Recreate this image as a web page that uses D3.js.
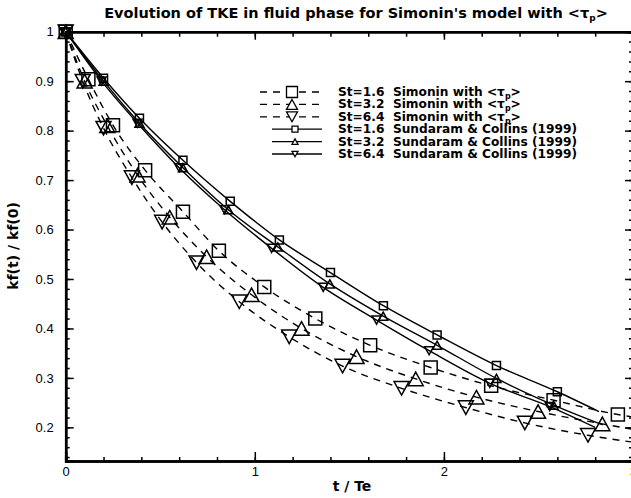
<html lang="en">
  <head>
    <meta charset="UTF-8" />
    <title>TKE evolution</title>
    <script src="https://d3js.org/d3.v7.min.js"></script>
  </head>
  <body>
    <style>
      body {
        background-color: #ffffff;
        margin: 0;
        padding: 0;
        font-family: Arial, "Liberation Sans", sans-serif;
      }
      svg {
        display: block;
      }
      .axis path,
      .axis line {
        stroke: #000;
      }
      .axis text {
        font-family: Arial, "Liberation Sans", sans-serif;
        font-size: 13px;
        fill: #000;
      }
      .bold {
        font-family: "DejaVu Sans", Arial, sans-serif;
        font-weight: bold;
      }
    </style>
    <script>
      const w = 631;
      const h = 498;

      // Simonin with <tau_p> (dashed, big markers)
      const simX16 = [0, 0.12, 0.25, 0.42, 0.62, 0.81, 1.05, 1.32, 1.61, 1.93, 2.25, 2.58, 2.92];
      const simY16 = [1, 0.904, 0.811, 0.72, 0.636, 0.557, 0.484, 0.42, 0.366, 0.321, 0.284, 0.255, 0.226];
      const simX32 = [0, 0.1, 0.22, 0.38, 0.55, 0.745, 0.983, 1.247, 1.538, 1.851, 2.172, 2.498, 2.838];
      const simY32 = [1, 0.9, 0.81, 0.71, 0.625, 0.545, 0.468, 0.4, 0.343, 0.298, 0.261, 0.232, 0.207];
      const simX64 = [0, 0.09, 0.2, 0.35, 0.51, 0.692, 0.918, 1.182, 1.464, 1.776, 2.116, 2.428, 2.762];
      const simY64 = [1, 0.9, 0.805, 0.705, 0.615, 0.533, 0.454, 0.383, 0.324, 0.279, 0.24, 0.209, 0.184];
      // where the dashed curves leave the frame
      const simEndX = [3.0, 3.0, 3.0];
      const simEndY = [0.221, 0.196, 0.17];

      // Sundaram & Collins (1999) (solid, small markers)
      const scX16 = [0, 0.2, 0.39, 0.62, 0.87, 1.13, 1.4, 1.68, 1.964, 2.278, 2.6];
      const scY16 = [1, 0.906, 0.825, 0.74, 0.657, 0.579, 0.513, 0.446, 0.387, 0.325, 0.272];
      const scX32 = [0, 0.2, 0.39, 0.62, 0.86, 1.122, 1.397, 1.679, 1.964, 2.278, 2.58];
      const scY32 = [1, 0.9, 0.815, 0.725, 0.64, 0.565, 0.49, 0.425, 0.366, 0.299, 0.245];
      const scX64 = [0, 0.19, 0.38, 0.6, 0.84, 1.089, 1.362, 1.644, 1.922, 2.243, 2.56];
      const scY64 = [1, 0.9, 0.815, 0.725, 0.64, 0.562, 0.483, 0.417, 0.355, 0.289, 0.242];
      const scEndX = [2.82, 2.84, 2.8];
      const scEndY = [0.232, 0.205, 0.2];

      const stLabels = ["St=1.6", "St=3.2", "St=6.4"];
      const xTicks = [0, 1, 2, 3];
      const yTicks = [0.2, 0.3, 0.4, 0.5, 0.6, 0.7, 0.8, 0.9, 1];

      const xScale = d3.scaleLinear().domain([0, 3]).range([65.7, 633]);
      const yScale = d3.scaleLinear().domain([0.132, 1]).range([461, 31.7]);

      // marker path centred on its bounding box
      const markerPath = (shape, s) => {
        const r = s / 2;
        if (shape === "square") return `M${-r},${-r}H${r}V${r}H${-r}Z`;
        const hh = s * 0.45;
        if (shape === "up") return `M0,${-hh}L${r},${hh}L${-r},${hh}Z`;
        return `M0,${hh}L${r},${-hh}L${-r},${-hh}Z`;
      };

      const gap = "\u00a0 ";
      const zip = (xs, ys) => xs.map((x, i) => [x, ys[i]]);
      const series = [
        { label: `${stLabels[0]}${gap}Simonin with`, tau: true, pts: zip(simX16, simY16), end: [simEndX[0], simEndY[0]], shape: "square", dashed: true },
        { label: `${stLabels[1]}${gap}Simonin with`, tau: true, pts: zip(simX32, simY32), end: [simEndX[1], simEndY[1]], shape: "up", dashed: true },
        { label: `${stLabels[2]}${gap}Simonin with`, tau: true, pts: zip(simX64, simY64), end: [simEndX[2], simEndY[2]], shape: "down", dashed: true },
        { label: `${stLabels[0]}${gap}Sundaram & Collins (1999)`, pts: zip(scX16, scY16), end: [scEndX[0], scEndY[0]], shape: "square", dashed: false },
        { label: `${stLabels[1]}${gap}Sundaram & Collins (1999)`, pts: zip(scX32, scY32), end: [scEndX[1], scEndY[1]], shape: "up", dashed: false },
        { label: `${stLabels[2]}${gap}Sundaram & Collins (1999)`, pts: zip(scX64, scY64), end: [scEndX[2], scEndY[2]], shape: "down", dashed: false },
      ];

      const svg = d3.select("body").append("svg").attr("width", w).attr("height", h);

      // title
      const title = svg
        .append("text")
        .attr("class", "bold")
        .attr("x", 356)
        .attr("y", 18)
        .attr("text-anchor", "middle")
        .style("font-size", "14.5px")
        .text("Evolution of TKE in fluid phase for Simonin's model with <τ");
      title.append("tspan").attr("dy", 3).style("font-size", "9px").text("p");
      title.append("tspan").attr("dy", -3).text(">");

      // curves
      const line = d3
        .line()
        .x((d) => xScale(d[0]))
        .y((d) => yScale(d[1]))
        .curve(d3.curveMonotoneX);

      const plot = svg.append("g").attr("class", "curves");
      plot
        .selectAll("path.curve")
        .data(series)
        .join("path")
        .attr("class", "curve")
        .attr("d", (d) => line(d.pts.concat([d.end])))
        .attr("fill", "none")
        .attr("stroke", "#000")
        .attr("stroke-width", 1.4)
        .attr("stroke-dasharray", (d) => (d.dashed ? "7,6" : null));

      series.forEach((s) => {
        const size = s.dashed ? (s.shape === "square" ? 13 : 15) : s.shape === "square" ? 8 : 9;
        plot
          .append("g")
          .selectAll("path")
          .data(s.pts)
          .join("path")
          .attr("transform", (d) => `translate(${xScale(d[0])},${yScale(d[1])})`)
          .attr("d", markerPath(s.shape, size))
          .attr("fill", "none")
          .attr("stroke", "#000")
          .attr("stroke-width", 1.5);
      });

      // axes with inward ticks (Tecplot style)
      const majorY = d3.axisLeft(yScale).tickValues(yTicks).tickSize(-8).tickPadding(12).tickFormat(d3.format("~g"));
      const minorY = d3.axisLeft(yScale).tickValues(d3.range(0.14, 1.0, 0.02)).tickSize(-4).tickFormat("");
      const majorX = d3.axisBottom(xScale).tickValues(xTicks).tickSize(-9).tickPadding(6).tickFormat(d3.format("d"));
      const minorX = d3.axisBottom(xScale).tickValues(d3.range(0.2, 3, 0.2)).tickSize(-4).tickFormat("");

      const axisG = (gen, tx, ty, id) =>
        svg
          .append("g")
          .attr("class", "axis")
          .attr("id", id)
          .attr("transform", `translate(${tx},${ty})`)
          .call(gen)
          .call((g) => g.select(".domain").attr("stroke-width", 2.5));

      axisG(minorY, xScale(0), 0);
      axisG(majorY, xScale(0), 0, "y-axis");
      axisG(minorX, 0, yScale.range()[0]);
      axisG(majorX, 0, yScale.range()[0], "x-axis");
      axisG(d3.axisTop(xScale).tickValues(d3.range(0.2, 3, 0.2)).tickSize(-5).tickFormat(""), 0, yScale(1));
      axisG(d3.axisTop(xScale).tickValues(xTicks).tickSize(-8).tickFormat(""), 0, yScale(1));
      axisG(d3.axisRight(yScale).tickValues(d3.range(0.14, 1.0, 0.02)).tickSize(-4).tickFormat(""), xScale(3), 0);
      axisG(d3.axisRight(yScale).tickValues(yTicks).tickSize(-8).tickFormat(""), xScale(3), 0);
      svg.selectAll(".axis .tick line").attr("stroke-width", 1.5);

      // axis titles
      svg
        .append("text")
        .attr("class", "bold")
        .attr("x", 352)
        .attr("y", 491)
        .attr("text-anchor", "middle")
        .style("font-size", "14px")
        .text("t / Te");
      svg
        .append("text")
        .attr("class", "bold")
        .attr("transform", "translate(18,246) rotate(-90)")
        .attr("text-anchor", "middle")
        .style("font-size", "14px")
        .text("kf(t) / kf(0)");

      // legend
      const legend = svg.append("g").attr("id", "legend");
      const rowY = (i) => 92 + i * 12.4;
      series.forEach((s, i) => {
        const y = rowY(i);
        const x0 = s.dashed ? 260 : 272;
        const mx = s.dashed ? 292 : 295;
        legend
          .append("line")
          .attr("x1", x0)
          .attr("x2", 322)
          .attr("y1", y)
          .attr("y2", y)
          .attr("stroke", "#000")
          .attr("stroke-width", 1.3)
          .attr("stroke-dasharray", s.dashed ? "7,6" : null);
        legend
          .append("path")
          .attr("transform", `translate(${mx},${y})`)
          .attr("d", markerPath(s.shape, s.dashed ? 11 : 6))
          .attr("fill", "#fff")
          .attr("stroke", "#000")
          .attr("stroke-width", 1.3);
        const t = legend
          .append("text")
          .attr("class", "bold")
          .attr("x", 338)
          .attr("y", y + 4)
          .style("font-size", "12.2px")
          .text(s.label);
        if (s.tau) {
          t.append("tspan").text(" <τ");
          t.append("tspan").attr("dy", 3).style("font-size", "8px").text("p");
          t.append("tspan").attr("dy", -3).text(">");
        }
      });
    </script>
  </body>
</html>
